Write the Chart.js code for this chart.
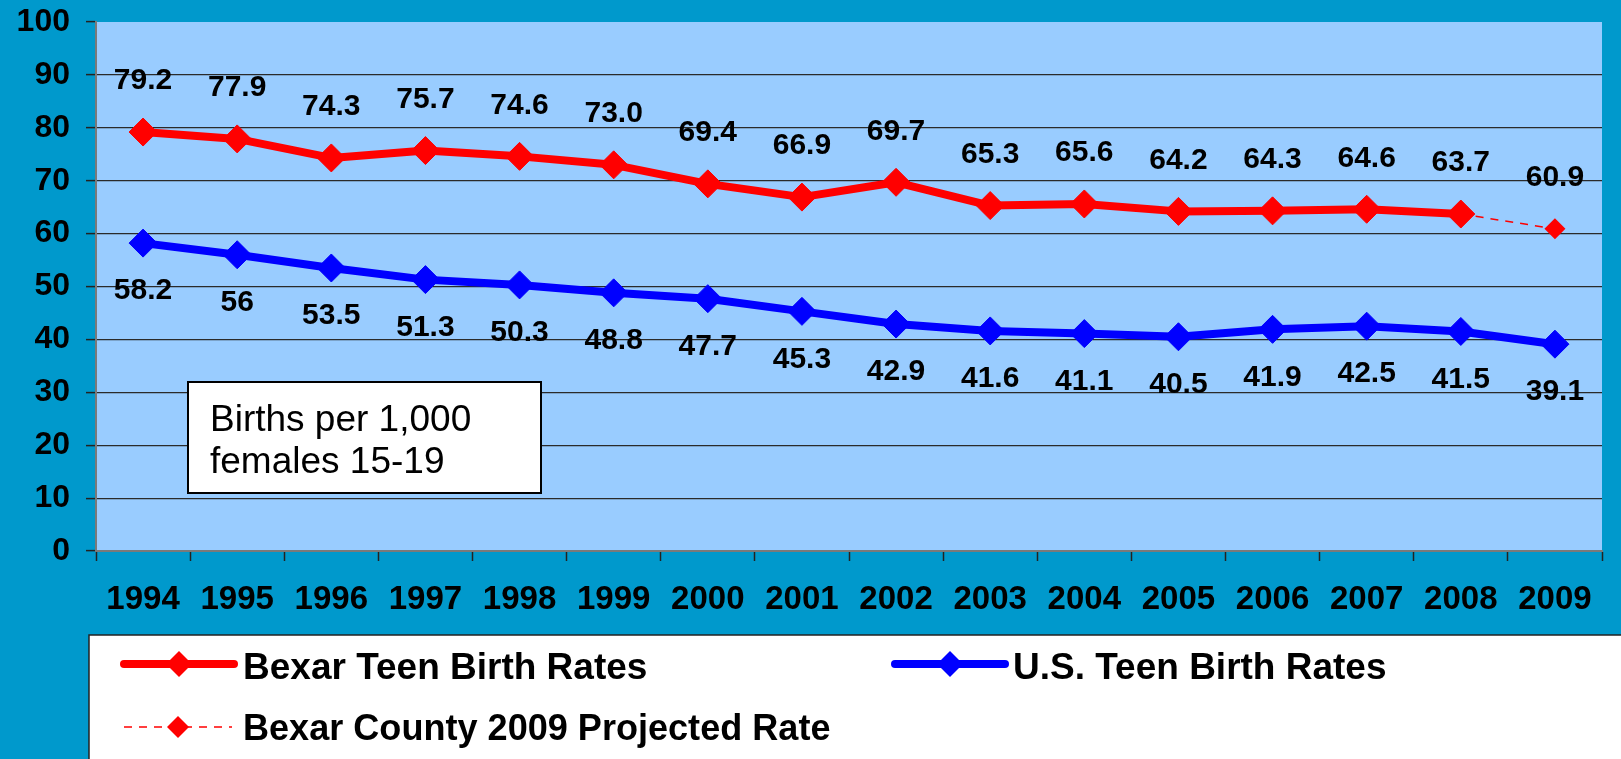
<!DOCTYPE html>
<html>
<head>
<meta charset="utf-8">
<script src="https://cdn.jsdelivr.net/npm/chart.js@4.4.1/dist/chart.umd.min.js"></script>
<style>
html,body{margin:0;padding:0;background:#0099CC;overflow:hidden;}
#wrap{width:1621px;height:759px;position:relative;}
</style>
</head>
<body>
<div id="wrap"><canvas id="c" width="1621" height="759"></canvas></div>
<script>
// ---- data ----
const years = ['1994','1995','1996','1997','1998','1999','2000','2001','2002','2003','2004','2005','2006','2007','2008','2009'];
const bexarRates = [79.2, 77.9, 74.3, 75.7, 74.6, 73.0, 69.4, 66.9, 69.7, 65.3, 65.6, 64.2, 64.3, 64.6, 63.7, null];
const usRates = [58.2, 56, 53.5, 51.3, 50.3, 48.8, 47.7, 45.3, 42.9, 41.6, 41.1, 40.5, 41.9, 42.5, 41.5, 39.1];
const projectedRates = [null, null, null, null, null, null, null, null, null, null, null, null, null, null, 63.7, 60.9];
const yTickValues = [0, 10, 20, 30, 40, 50, 60, 70, 80, 90, 100];
const seriesNames = ['Bexar Teen Birth Rates', 'U.S. Teen Birth Rates', 'Bexar County 2009 Projected Rate'];
const noteLines = ['Births per 1,000', 'females 15-19'];

const FONT = "Arial, 'Liberation Sans', Helvetica, sans-serif";
const RED = '#FF0000', BLUE = '#0000FF';

const bgPlugin = {
  id: 'bg',
  beforeDraw(chart) {
    const {ctx, chartArea: a} = chart;
    ctx.save();
    ctx.fillStyle = '#0099CC';
    ctx.fillRect(0, 0, chart.width, chart.height);
    ctx.fillStyle = '#99CCFF';
    ctx.fillRect(a.left, a.top, a.right - a.left, a.bottom - a.top);
    ctx.restore();
  }
};

const labelPlugin = {
  id: 'vlabels',
  afterDatasetsDraw(chart) {
    const ctx = chart.ctx;
    ctx.save();
    ctx.font = 'bold 30px ' + FONT;
    ctx.fillStyle = '#000';
    ctx.textAlign = 'center';
    ctx.textBaseline = 'middle';
    chart.data.datasets.forEach((ds, di) => {
      const meta = chart.getDatasetMeta(di);
      meta.data.forEach((pt, i) => {
        const v = ds.data[i];
        if (v === null || v === undefined) return;
        if (ds.key === 'proj' && bexarRates[i] !== null) return;
        const txt = ds.key === 'us' ? String(v) : v.toFixed(1);
        const dy = ds.labelBelow ? 48 : -51;
        ctx.fillText(txt, pt.x, pt.y + dy);
      });
    });
    ctx.restore();
  }
};

function diamond(ctx, x, y, r, color) {
  ctx.beginPath();
  ctx.moveTo(x - r, y); ctx.lineTo(x, y - r); ctx.lineTo(x + r, y); ctx.lineTo(x, y + r);
  ctx.closePath();
  ctx.fillStyle = color;
  ctx.fill();
}

const overlayPlugin = {
  id: 'overlay',
  afterDraw(chart) {
    const ctx = chart.ctx;
    ctx.save();
    // note box
    ctx.fillStyle = '#FFFFFF';
    ctx.fillRect(188, 382, 353, 111);
    ctx.strokeStyle = '#000';
    ctx.lineWidth = 2;
    ctx.strokeRect(188, 382, 353, 111);
    ctx.fillStyle = '#000';
    ctx.font = '37px ' + FONT;
    ctx.textAlign = 'left';
    ctx.textBaseline = 'alphabetic';
    ctx.fillText(noteLines[0], 210, 431);
    ctx.fillText(noteLines[1], 210, 473);

    // legend box
    ctx.fillStyle = '#FFFFFF';
    ctx.fillRect(89, 635, 1540, 130);
    ctx.strokeStyle = '#222';
    ctx.lineWidth = 1.5;
    ctx.strokeRect(89, 635, 1540, 130);

    const ds = chart.data.datasets;
    // item 1
    ctx.lineCap = 'round';
    ctx.strokeStyle = ds[0].borderColor; ctx.lineWidth = 8;
    ctx.beginPath(); ctx.moveTo(124, 664); ctx.lineTo(234, 664); ctx.stroke();
    diamond(ctx, 179, 664, 13, ds[0].backgroundColor);
    // item 2
    ctx.strokeStyle = ds[1].borderColor;
    ctx.beginPath(); ctx.moveTo(895, 664); ctx.lineTo(1005, 664); ctx.stroke();
    diamond(ctx, 950, 664, 13, ds[1].backgroundColor);
    // item 3
    ctx.lineCap = 'butt';
    ctx.strokeStyle = ds[2].borderColor; ctx.lineWidth = 1.5;
    ctx.setLineDash([8, 7]);
    ctx.beginPath(); ctx.moveTo(124, 727); ctx.lineTo(232, 727); ctx.stroke();
    ctx.setLineDash([]);
    diamond(ctx, 178, 727, 11, ds[2].backgroundColor);

    ctx.fillStyle = '#000';
    ctx.font = 'bold 37px ' + FONT;
    ctx.fillText(seriesNames[0], 243, 679);
    ctx.fillText(seriesNames[1], 1013, 679);
    // third label is set slightly tighter in the reference
    ctx.save();
    ctx.translate(243, 740);
    ctx.scale(0.975, 1);
    ctx.fillText(seriesNames[2], 0, 0);
    ctx.restore();
    ctx.restore();
  }
};

new Chart(document.getElementById('c'), {
  type: 'line',
  data: {
    labels: years,
    datasets: [
      {
        key: 'bexar', label: seriesNames[0], data: bexarRates,
        borderColor: RED, backgroundColor: RED, borderWidth: 8,
        pointStyle: 'rectRot', pointRadius: 14, pointBorderWidth: 1, pointBorderColor: RED,
        pointBackgroundColor: RED, tension: 0, spanGaps: false, labelBelow: false,
        borderJoinStyle: 'round'
      },
      {
        key: 'us', label: seriesNames[1], data: usRates,
        borderColor: BLUE, backgroundColor: BLUE, borderWidth: 8,
        pointStyle: 'rectRot', pointRadius: 14, pointBorderWidth: 1, pointBorderColor: BLUE,
        pointBackgroundColor: BLUE, tension: 0, labelBelow: true,
        borderJoinStyle: 'round'
      },
      {
        key: 'proj', label: seriesNames[2], data: projectedRates,
        borderColor: RED, backgroundColor: RED, borderWidth: 1.5, borderDash: [8, 7],
        pointStyle: 'rectRot',
        pointRadius: (c) => (bexarRates[c.dataIndex] === null ? 10.5 : 0),
        pointBorderWidth: 0, pointBackgroundColor: RED, tension: 0, labelBelow: false
      }
    ]
  },
  options: {
    responsive: false,
    animation: false,
    devicePixelRatio: 1,
    layout: { padding: { left: 0, top: 22, right: 19, bottom: 128 } },
    plugins: { legend: { display: false }, tooltip: { enabled: false } },
    scales: {
      x: {
        type: 'category',
        offset: true,
        afterFit: (s) => { s.height = 80; s.paddingLeft = 0; s.paddingRight = 0; },
        grid: { offset: true, drawOnChartArea: false, tickLength: 10, tickColor: '#222', tickWidth: 1.5 },
        border: { color: '#7a7a7a', width: 2 },
        ticks: { color: '#000', font: { family: FONT, size: 33, weight: 'bold' }, padding: 19, maxRotation: 0, autoSkip: false }
      },
      y: {
        min: 0, max: 100,
        afterFit: (s) => { s.width = 96; s.paddingTop = 0; s.paddingBottom = 0; },
        afterBuildTicks: (s) => { s.ticks = yTickValues.map(v => ({ value: v })); },
        grid: {
          color: (c) => (c.tick && (c.tick.value === 100 || c.tick.value === 0) ? 'rgba(0,0,0,0)' : '#2a2a2a'),
          lineWidth: 1.2, tickLength: 10, tickColor: '#222', tickWidth: 1.5
        },
        border: { color: '#7a7a7a', width: 2 },
        ticks: { color: '#000', font: { family: FONT, size: 32, weight: 'bold' }, padding: 16 }
      }
    }
  },
  plugins: [bgPlugin, labelPlugin, overlayPlugin]
});
</script>
</body>
</html>
